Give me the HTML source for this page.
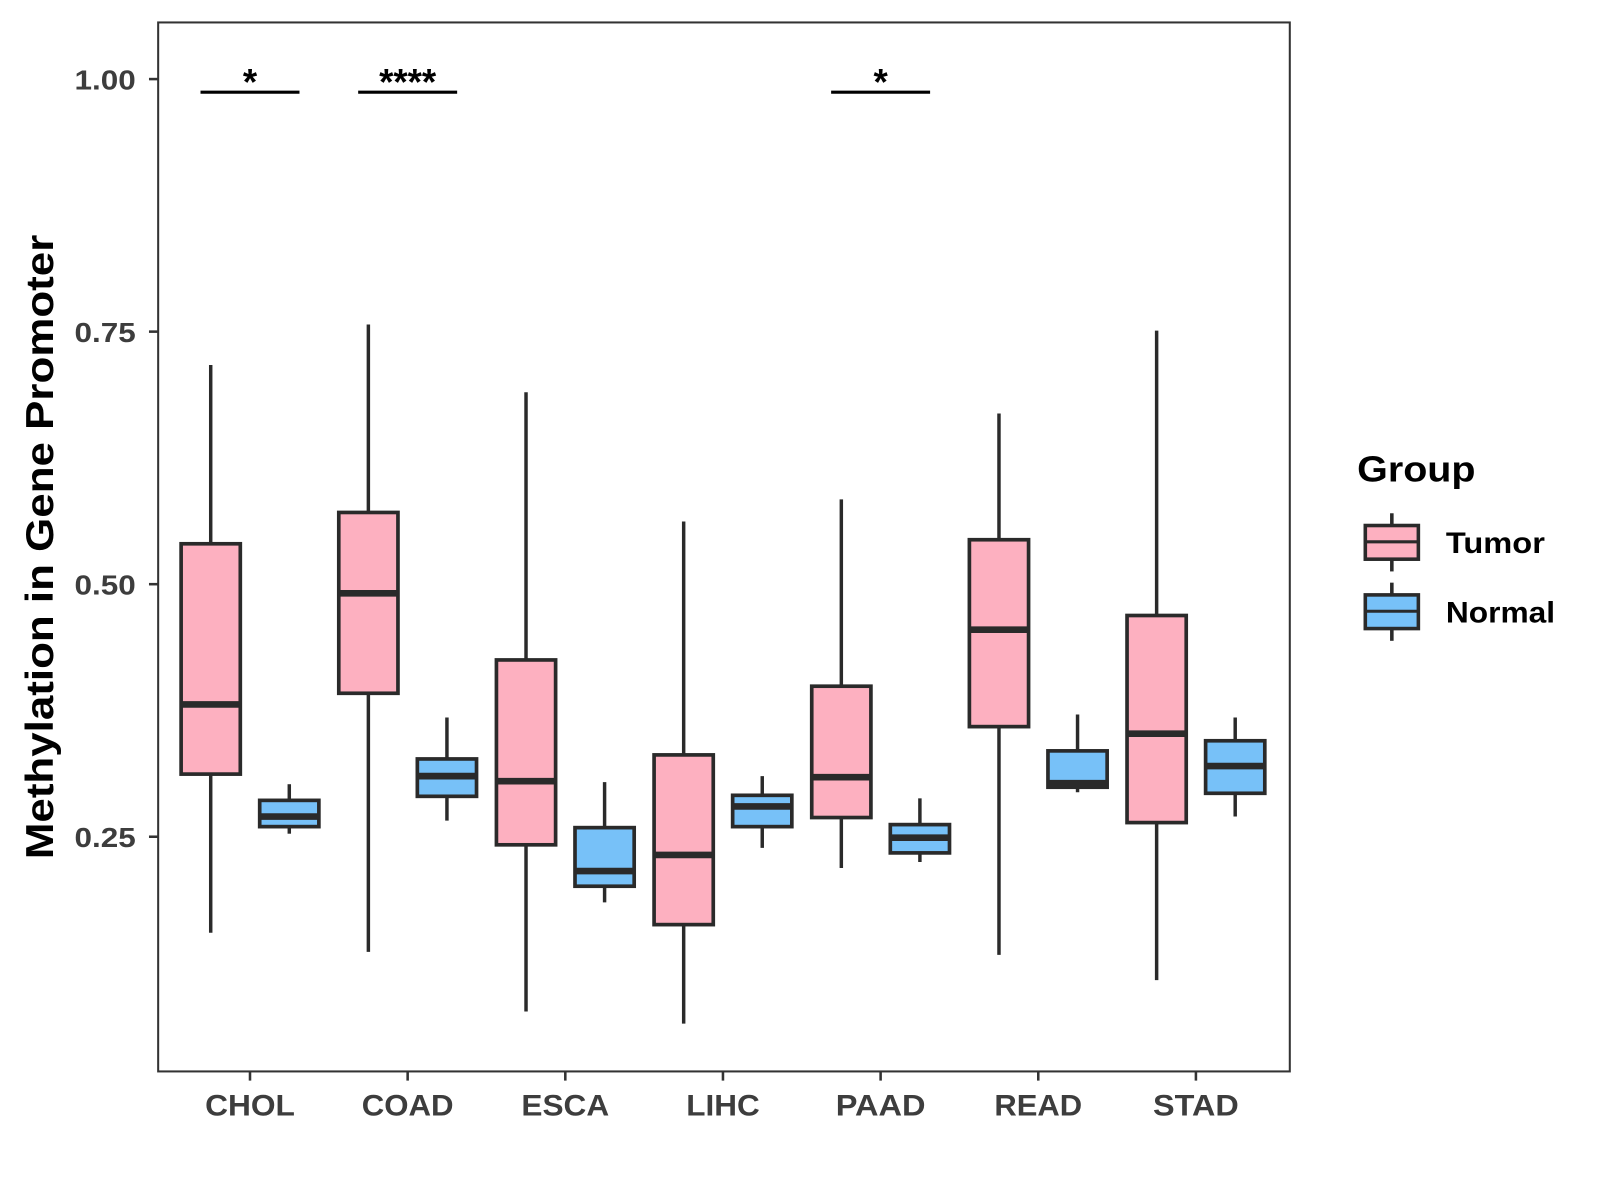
<!DOCTYPE html>
<html><head><meta charset="utf-8"><style>
html,body{margin:0;padding:0;background:#fff;}
svg{display:block;font-family:"Liberation Sans",sans-serif;}
</style></head><body>
<svg id="chart" width="1600" height="1200" viewBox="0 0 1568 1176" xmlns="http://www.w3.org/2000/svg">
<rect x="0" y="0" width="1568" height="1176" fill="#fff"/>
<g id="plot"></g>
<text transform="translate(52,536) rotate(-90)" text-anchor="middle" font-size="38" font-weight="bold" fill="#000" textLength="612" lengthAdjust="spacingAndGlyphs">Methylation in Gene Promoter</text>
<g>
<text x="1330" y="472" font-size="35" font-weight="bold" textLength="116" lengthAdjust="spacingAndGlyphs">Group</text>
<g>
<line x1="1364" y1="503" x2="1364" y2="560" stroke="#2a2a2a" stroke-width="3.5"/>
<rect x="1338" y="515" width="52" height="33" fill="#FDB0C0" stroke="#2a2a2a" stroke-width="3.5"/>
<line x1="1338" y1="531" x2="1390" y2="531" stroke="#2a2a2a" stroke-width="3"/>
<text x="1417" y="542" font-size="29" font-weight="bold" textLength="97" lengthAdjust="spacingAndGlyphs">Tumor</text>
</g>
<g>
<line x1="1364" y1="571" x2="1364" y2="628" stroke="#2a2a2a" stroke-width="3.5"/>
<rect x="1338" y="583" width="52" height="33" fill="#77C1F8" stroke="#2a2a2a" stroke-width="3.5"/>
<line x1="1338" y1="599" x2="1390" y2="599" stroke="#2a2a2a" stroke-width="3"/>
<text x="1417" y="610" font-size="29" font-weight="bold" textLength="107" lengthAdjust="spacingAndGlyphs">Normal</text>
</g>
</g>
</svg>
<script>
const categories = ["CHOL","COAD","ESCA","LIHC","PAAD","READ","STAD"];
// [low, q1, median, q3, high]
const tumorStats = [
 [0.155,0.312,0.381,0.540,0.717],
 [0.136,0.392,0.491,0.571,0.757],
 [0.077,0.242,0.305,0.425,0.690],
 [0.065,0.163,0.232,0.331,0.562],
 [0.219,0.269,0.309,0.399,0.584],
 [0.133,0.359,0.455,0.544,0.669],
 [0.108,0.264,0.352,0.469,0.751]
];
const normalStats = [
 [0.253,0.260,0.270,0.286,0.302],
 [0.266,0.290,0.310,0.327,0.368],
 [0.185,0.201,0.216,0.259,0.304],
 [0.239,0.260,0.280,0.291,0.310],
 [0.225,0.234,0.249,0.262,0.288],
 [0.294,0.299,0.303,0.335,0.371],
 [0.270,0.293,0.320,0.345,0.368]
];
const yTicks = [0.25,0.50,0.75,1.00];
const yTickLabels = ["0.25","0.50","0.75","1.00"];
const sigCategories = ["CHOL","COAD","PAAD"];
const sigLabels = ["*","****","*"];
const sigLevel = 0.987;

const NS="http://www.w3.org/2000/svg";
const L=155,R=1264,T=22,B=1050;
const labelW={CHOL:88,COAD:90,ESCA:86,LIHC:72,PAAD:88,READ:86,STAD:84};
function y(v){return 77.5+(1-v)*990;}
function x(i){return 245+i*154.5;}
const g=document.getElementById('plot');
function mk(tag,attrs,parent){const e=document.createElementNS(NS,tag);for(const k in attrs)e.setAttribute(k,attrs[k]);(parent||g).appendChild(e);return e;}

const panel=mk('rect',{x:L,y:T,width:R-L,height:B-T,fill:'none',stroke:'#333','stroke-width':2});



yTicks.forEach((t,i)=>{
  const tk=mk('line',{x1:L-9,x2:L,y1:y(t),y2:y(t),stroke:'#333','stroke-width':2.5});
  
  
  const lb=mk('text',{x:L-22,y:y(t)+10,'text-anchor':'end','font-size':27,'font-weight':'bold',fill:'#3d3d3d',textLength:60,lengthAdjust:'spacingAndGlyphs'});
  lb.textContent=yTickLabels[i];
  
  
});
categories.forEach((c,i)=>{
  const tk=mk('line',{x1:x(i),x2:x(i),y1:B,y2:B+9,stroke:'#333','stroke-width':2.5});
  
  
  const lb=mk('text',{x:x(i),y:B+43,'text-anchor':'middle','font-size':29,'font-weight':'bold',fill:'#3d3d3d',textLength:labelW[c]||88,lengthAdjust:'spacingAndGlyphs'});
  lb.textContent=c;
  
  
});

function box(cx,s,fill,name){
  const bg=mk('g',{});
  
  
  const w=58;
  mk('line',{x1:cx,x2:cx,y1:y(s[4]),y2:y(s[0]),stroke:'#2a2a2a','stroke-width':3.4},bg);
  mk('rect',{x:cx-w/2,y:y(s[3]),width:w,height:y(s[1])-y(s[3]),fill:fill,stroke:'#2a2a2a','stroke-width':3.6},bg);
  mk('line',{x1:cx-w/2,x2:cx+w/2,y1:y(s[2]),y2:y(s[2]),stroke:'#2a2a2a','stroke-width':6.5},bg);
}
categories.forEach((c,i)=>{
  box(x(i)-38.5,tumorStats[i],'#FDB0C0','box-tumor-'+c.toLowerCase());
  box(x(i)+38.5,normalStats[i],'#77C1F8','box-normal-'+c.toLowerCase());
});
sigCategories.forEach((c,k)=>{
  const i=categories.indexOf(c);
  const ln=mk('line',{x1:x(i)-48.5,x2:x(i)+48.5,y1:y(sigLevel),y2:y(sigLevel),stroke:'#000','stroke-width':3});
  
  
  const t=mk('text',{x:x(i),y:y(sigLevel)+2,'text-anchor':'middle','font-size':36,'font-weight':'bold',fill:'#000'});
  t.textContent=sigLabels[k];
  
  
});
</script>
</body></html>
